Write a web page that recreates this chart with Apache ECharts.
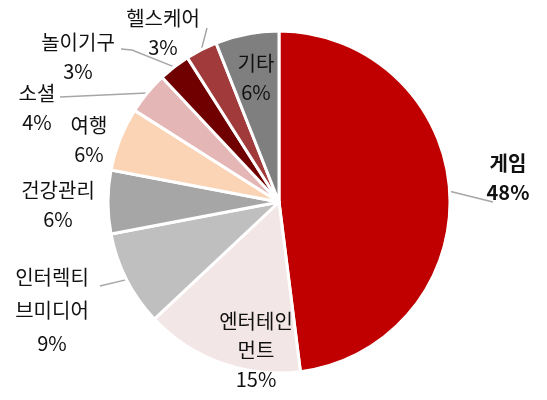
<!DOCTYPE html>
<html><head><meta charset="utf-8">
<script src="https://cdn.jsdelivr.net/npm/echarts@6/dist/echarts.min.js"></script>
<style>html,body{margin:0;padding:0;background:#fff}#c{width:547px;height:400px}</style>
</head><body><div id="c"></div>
<script>
const categories = ['게임', '엔터테인\n먼트', '인터렉티\n브미디어', '건강관리', '여행', '소셜', '놀이기구', '헬스케어', '기타'];
const values = [48, 15, 9, 6, 6, 4, 3, 3, 6];
const colors = ['#C00000', '#F3E6E6', '#BFBFBF', '#A6A6A6', '#FAD4B4', '#E4B6B6', '#700000', '#A13A3A', '#7F7F7F'];
// label anchor (center of text block) and label-line end points, layout only
const labelPos = [[508,178],[256,350],[52,310],[58,205],[89,140],[37,108],[78,57],[163,33],[256,78]];
const lineEnds = [[[493,202]], null, [[100,286]], null, null, [[60,97]], [[132,50],[121,49]], [[207,28]], null];

const chart = echarts.init(document.getElementById('c'));
chart.setOption({
  animation: false,
  series: [{
    type: 'pie',
    center: [279, 202],
    radius: 171,
    startAngle: 90,
    clockwise: true,
    itemStyle: { borderColor: '#fff', borderWidth: 3 },
    label: {
      show: true,
      position: 'outside',
      alignTo: 'none',
      overflow: 'none',
      width: 200,
      fontFamily: '"Noto Sans CJK KR", sans-serif',
      fontSize: 20,
      lineHeight: 29,
      color: '#111',
      align: 'center',
      formatter: p => p.name + '\n' + p.value + '%'
    },
    labelLine: { show: true, lineStyle: { color: '#A6A6A6', width: 1.5 } },
    labelLayout: function (params) {
      const i = params.dataIndex;
      const out = { x: labelPos[i][0], y: labelPos[i][1], align: 'center', verticalAlign: 'middle' };
      if (lineEnds[i] && params.labelLinePoints) {
        out.labelLinePoints = [params.labelLinePoints[0]].concat(lineEnds[i]);
      }
      return out;
    },
    data: categories.map((c, i) => {
      const d = { name: c, value: values[i], itemStyle: { color: colors[i] } };
      if (!lineEnds[i]) d.labelLine = { show: false };
      if (i === 0) d.label = { fontWeight: 'bold' };
      if (i === 2) d.label = { lineHeight: 33 };
      return d;
    })
  }]
});
</script></body></html>
